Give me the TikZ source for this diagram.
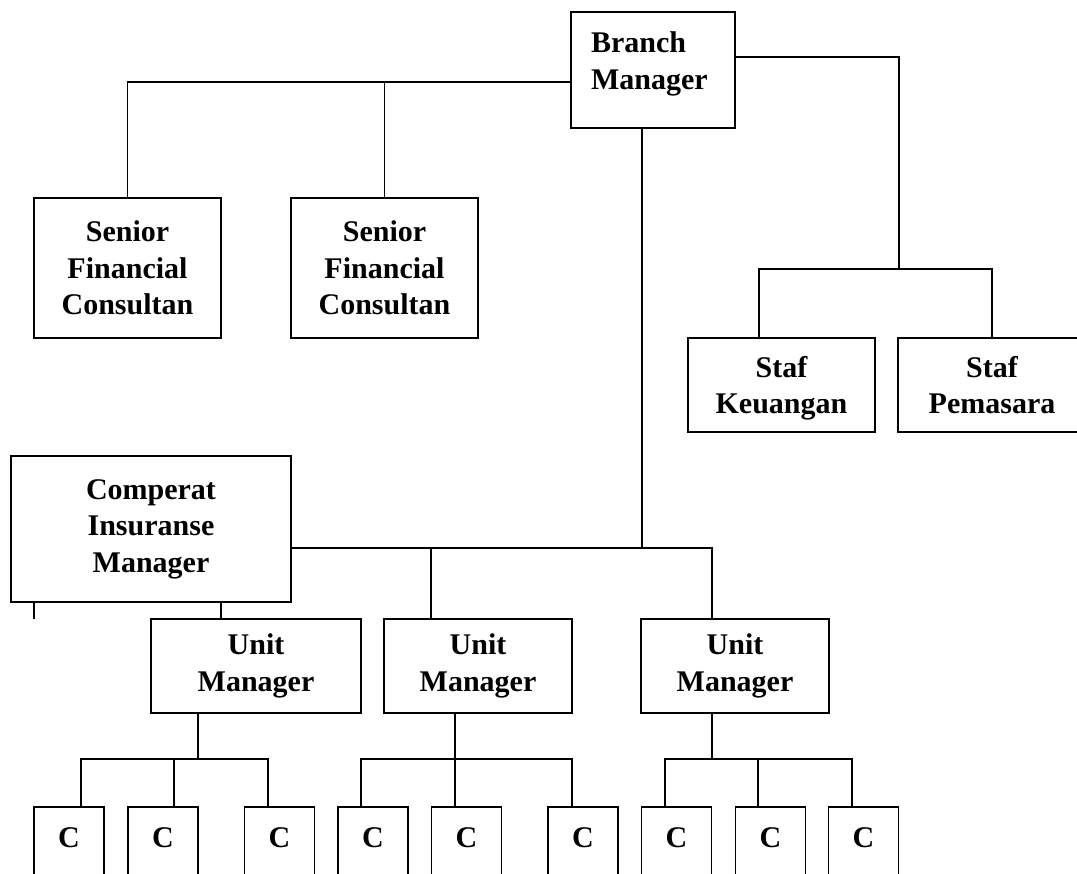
\documentclass[tikz,border=0pt]{standalone}
\usepackage{fontspec}
\setmainfont{Liberation Serif}
\usepackage{tikz}
\tikzset{
  orgbox/.style={draw, align=center, inner sep=0pt, font=\fontsize{30}{36.5}\selectfont\bfseries},
  cbox/.style={draw, anchor=north, minimum width=70pt, inner sep=0pt, text height=41pt, text depth=100pt, font=\fontsize{30}{36.5}\selectfont\bfseries}
}
\begin{document}
\begin{tikzpicture}[x=1pt, y=-1pt, line width=1.9pt]
    % Page
    \useasboundingbox (0,0) rectangle (1077,874);
    \clip (0,0) rectangle (1077,874);

    % Top
    \node[orgbox, text width=124pt, align=left, text depth=55pt, minimum width=164pt, minimum height=116pt] (bm) at (653,70) {Branch\\Manager};

    % Senior consultants
    \node[orgbox, minimum width=187pt, minimum height=140pt] (sfc1) at (127.5,268) {Senior\\Financial\\Consultan};
    \node[orgbox, minimum width=187pt, minimum height=140pt] (sfc2) at (384.5,268) {Senior\\Financial\\Consultan};

    % Staff
    \node[orgbox, text depth=0pt, minimum width=187pt, minimum height=94pt] (sk) at (781.5,385) {Staf\\Keuangan};
    \node[orgbox, text depth=0pt, minimum width=188pt, minimum height=94pt] (sp) at (992,385) {Staf\\Pemasara};

    % Managers
    \node[orgbox, minimum width=280pt, minimum height=146pt] (cim) at (151,529) {Comperat\\Insuranse\\Manager};
    \node[orgbox, minimum width=210pt, minimum height=94pt] (um1) at (256,666) {Unit\\Manager};
    \node[orgbox, minimum width=188pt, minimum height=94pt] (um2) at (478,666) {Unit\\Manager};
    \node[orgbox, minimum width=188pt, minimum height=94pt] (um3) at (735,666) {Unit\\Manager};

    % Lines to senior consultants
    \coordinate (sfbus) at (0,82);
    \draw (sfc1.north) |- (bm.west |- sfbus);
    \draw (sfc2.north) -- (sfc2.north |- sfbus);

    % Lines to staff
    \coordinate (stj) at (899,57);
    \coordinate (stb) at (899,269);
    \coordinate (skdrop) at (759,269);
    \draw (bm.east |- stj) -- (stj) -- (stb);
    \draw (skdrop |- sk.north) -- (skdrop) -| (sp.north);

    % Lines to managers
    \coordinate (umj) at (642,548);
    \coordinate (d2) at (431,548);
    \coordinate (d3) at (712,548);
    \draw (bm.south -| umj) -- (umj);
    \draw (cim.east |- umj) -| (d3 |- um3.north);
    \draw (d2) -- (d2 |- um2.north);
    \coordinate (cimtail) at (34,619);
    \coordinate (d1) at (221,619);
    \draw (cimtail |- cim.south) -- (cimtail);
    \draw (d1 |- cim.south) -- (d1);

    % Consultants C
    \foreach \g/\m/\ca/\cb/\cc/\da/\db/\dc in {1/198/69/163/279.5/81/174/268,
        2/455/373/466.5/583/361/455/572, 3/712/676.5/770.5/863.5/665/758/852} {
        \node[cbox] (c\g1) at (\ca,806) {C};
        \node[cbox] (c\g2) at (\cb,806) {C};
        \node[cbox] (c\g3) at (\cc,806) {C};
        \coordinate (bm\g) at (\m,759);
        \coordinate (ba) at (\da,759);
        \coordinate (bb) at (\db,759);
        \coordinate (bc) at (\dc,759);
        \draw (um\g.south -| bm\g) -- (bm\g);
        \draw (ba |- c\g1.north) -- (ba) -- (bc) -- (bc |- c\g3.north);
        \draw (bb) -- (bb |- c\g2.north);
    }
\end{tikzpicture}
\end{document}
